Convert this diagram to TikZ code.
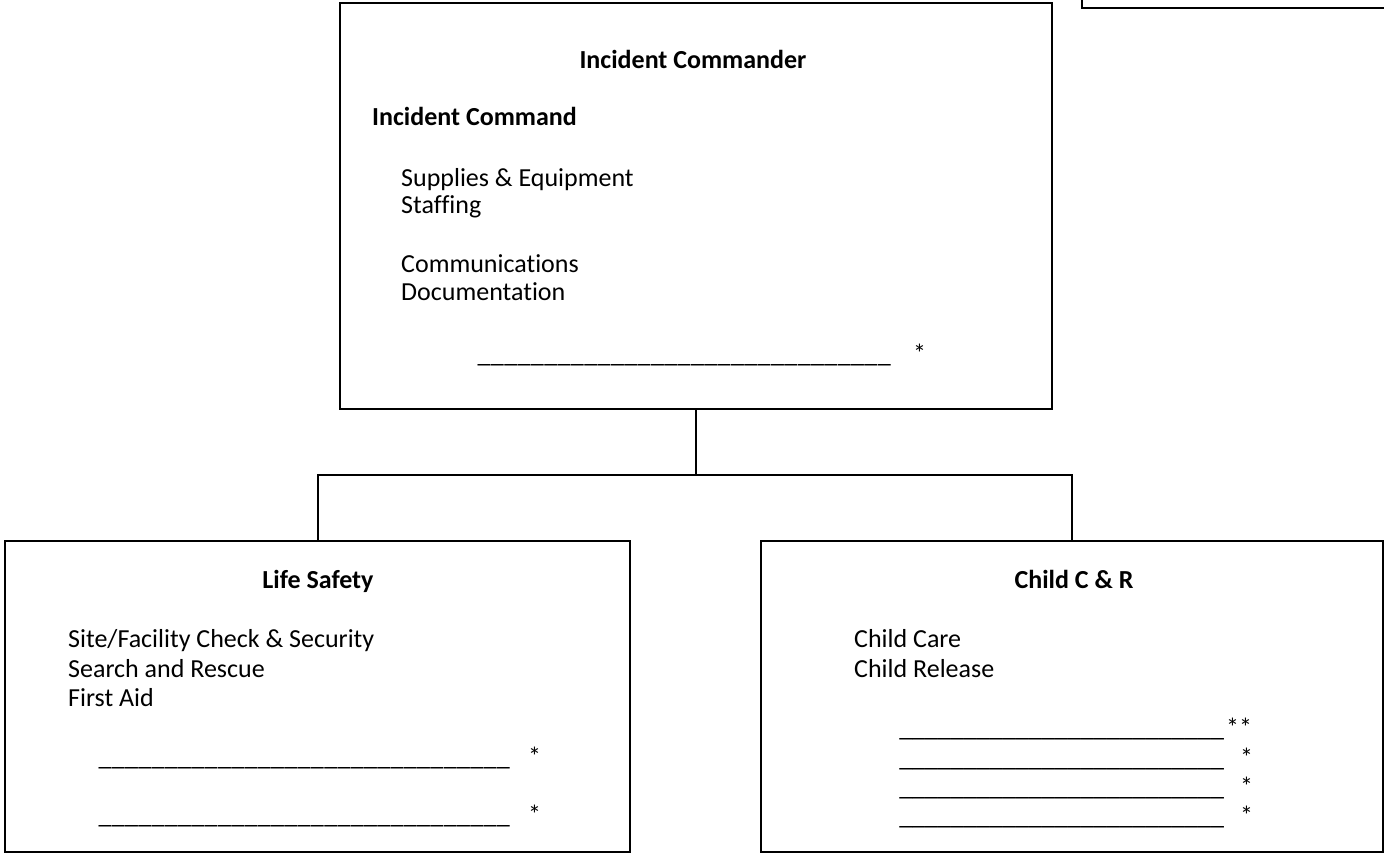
\documentclass[tikz,border=0pt]{standalone}
\usepackage{fontspec}
\setmainfont{Carlito}[Ligatures=NoCommon]
\newcommand{\blankline}[1]{\makebox[#1][l]{\xleaders\hbox{\_}\hfill}}

\begin{document}
\begin{tikzpicture}[x=1pt, y=-1pt,
  every node/.style={font=\fontsize{26}{28}\selectfont},
  box/.style={draw=black, line width=2.5pt, inner sep=0pt},
  link/.style={-, line width=2pt, draw=black},
  head/.style={anchor=base, inner sep=0pt, font=\fontsize{26}{28}\selectfont\bfseries},
  item/.style={anchor=base west, inner sep=0pt}]
\useasboundingbox (0,0) rectangle (1384,854);
% boxes
\node[box, minimum width=340pt, minimum height=50pt] (top) at (1252,-17) {};
\node[box, minimum width=712pt, minimum height=406pt] (ic) at (696,206) {};
\node[box, minimum width=625pt, minimum height=311pt] (ls) at (317.5,696.5) {};
\node[box, minimum width=622pt, minimum height=311pt] (cr) at (1072,696.5) {};
% incident command
\node[head] (ichead) at (693,68) {Incident Commander};
\node[item, font=\fontsize{26}{28}\selectfont\bfseries] (icsub) at (372,125) {Incident Command};
\node[item] (supplies) at (401,186) {Supplies \& Equipment};
\node[item] (staffing) at (401,213) {Staffing};
\node[item] (comms) at (401,272) {Communications};
\node[item] (docs) at (401,300) {Documentation};
\node[item] (icname) at (477,362) {\blankline{414pt}\hspace{22pt}*};
% life safety
\node[head] (lshead) at (318,588) {Life Safety};
\node[item] (site) at (68,647) {Site/Facility Check \& Security};
\node[item] (search) at (68,677) {Search and Rescue};
\node[item] (aid) at (68,706) {First Aid};
\node[item] (lsname1) at (98,765) {\blankline{412pt}\hspace{18pt}*};
\node[item] (lsname2) at (98,823) {\blankline{412pt}\hspace{18pt}*};
% child care and release
\node[head] (crhead) at (1074,588) {Child C \& R};
\node[item] (care) at (854,647) {Child Care};
\node[item] (release) at (854,677) {Child Release};
\node[item] (crname1) at (899,736) {\blankline{325pt}\hspace{2pt}**};
\node[item] (crname2) at (899,766) {\blankline{325pt}\hspace{16pt}*};
\node[item] (crname3) at (899,795) {\blankline{325pt}\hspace{16pt}*};
\node[item] (crname4) at (899,824) {\blankline{325pt}\hspace{16pt}*};
% connectors
\coordinate (bus) at (696,475);
\draw[link] (ic.south) -- (bus);
\draw[link] (ls.north) |- (bus);
\draw[link] (cr.north) |- (bus);
\end{tikzpicture}
\end{document}
